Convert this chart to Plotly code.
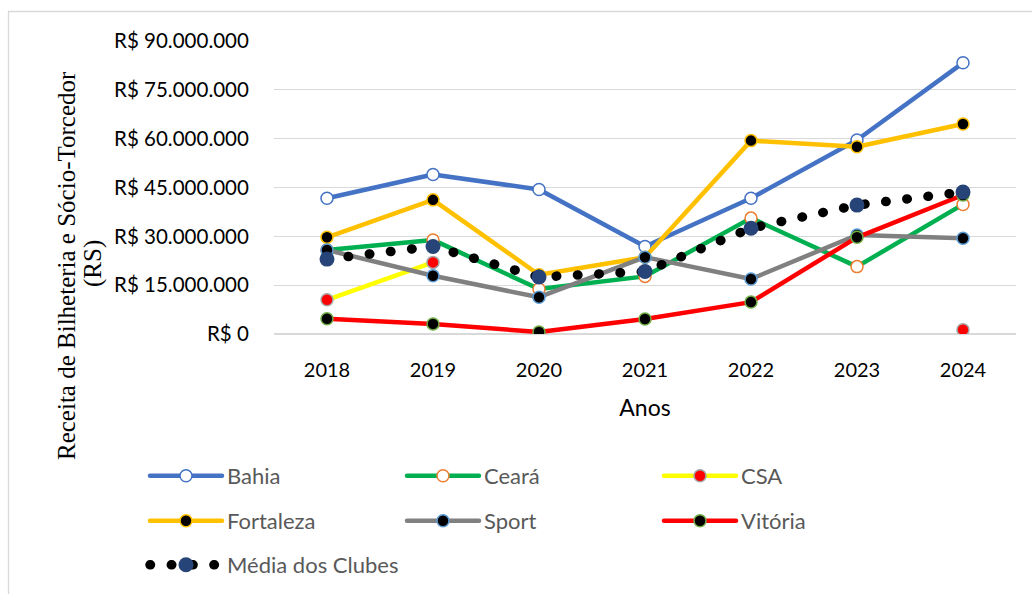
import plotly.graph_objects as go

# ---------------- data ----------------
anos = ["2018", "2019", "2020", "2021", "2022", "2023", "2024"]

bahia = [41.7e6, 49.0e6, 44.4e6, 26.9e6, 41.7e6, 59.6e6, 83.3e6]
ceara = [25.8e6, 28.9e6, 13.8e6, 17.7e6, 35.6e6, 20.7e6, 39.8e6]
csa = [10.5e6, 22.0e6, None, None, None, None, 1.3e6]
fortaleza = [29.7e6, 41.2e6, 18.2e6, 23.6e6, 59.4e6, 57.5e6, 64.5e6]
sport = [25.8e6, 17.9e6, 11.3e6, 23.6e6, 16.9e6, 30.4e6, 29.4e6]
vitoria = [4.7e6, 3.1e6, 0.6e6, 4.6e6, 9.8e6, 29.7e6, 42.7e6]
media = [23.0e6, 26.9e6, 17.5e6, 19.2e6, 32.5e6, 39.6e6, 43.6e6]

y_tickvals = [0, 15e6, 30e6, 45e6, 60e6, 75e6, 90e6]
y_ticktext = ["R$ 0", "R$ 15.000.000", "R$ 30.000.000", "R$ 45.000.000",
              "R$ 60.000.000", "R$ 75.000.000", "R$ 90.000.000"]

# ---------------- layout geometry ----------------
W, H = 1032, 594
L, R, T, B = 274, 16, 41, 260
PW, PH = W - L - R, H - T - B


def px_x(px):
    return (px - L) / PW


def px_y(py):
    return (H - B - py) / PH


FONT = "Lato"
fig = go.Figure()

# legend slots: (column left px, row centre px)
COLS = [145, 402, 659]
ROWS = [476, 521, 565]
legend_slots = {}


def add_series(name, values, line_color, marker_fill, marker_line, slot,
               width=4.5, size=12, dash="solid", mline_w=1.5):
    lid = "legend" if slot == 1 else f"legend{slot}"
    fig.add_trace(go.Scatter(
        x=anos, y=values, name=name, mode="lines+markers",
        line=dict(color=line_color, width=width, dash=dash),
        marker=dict(symbol="circle", size=size, color=marker_fill,
                    line=dict(color=marker_line, width=mline_w)),
        connectgaps=False, legend=lid,
    ))
    legend_slots[lid] = slot


add_series("Bahia", bahia, "#4472C4", "#FFFFFF", "#4472C4", 1)
add_series("Ceará", ceara, "#00B050", "#FFFFFF", "#ED7D31", 2)
add_series("CSA", csa, "#FFFF00", "#FF0000", "#A5A5A5", 3)
add_series("Fortaleza", fortaleza, "#FFC000", "#000000", "#FFC000", 4)
add_series("Sport", sport, "#808080", "#000000", "#5B9BD5", 5)
add_series("Vitória", vitoria, "#FF0000", "#000000", "#70AD47", 6)
add_series("Média dos Clubes", media, "#000000", "#264478", "#264478", 7,
           width=9.5, size=15, dash="0.5px,20.8px", mline_w=0)

legends = {}
for lid, slot in legend_slots.items():
    col = (slot - 1) % 3
    row = (slot - 1) // 3
    legends[lid] = dict(
        orientation="h", itemwidth=72,
        xanchor="left", yanchor="middle", bgcolor="rgba(0,0,0,0)",
        font=dict(family=FONT, size=22, color="#595959"),
        x=px_x(COLS[col]), y=px_y(ROWS[row]),
    )

fig.update_layout(
    width=W, height=H,
    margin=dict(l=L, r=R, t=T, b=B, pad=0, autoexpand=False),
    paper_bgcolor="white", plot_bgcolor="white",
    showlegend=True,
    **legends,
    xaxis=dict(
        type="category", range=[-0.5, 6.5], showgrid=False, zeroline=False,
        showline=False, ticks="outside", ticklen=18, tickcolor="rgba(0,0,0,0)",
        tickfont=dict(family=FONT, size=20, color="#000000"),
        automargin=False,
        title=dict(text="Anos", font=dict(family=FONT, size=23, color="#000000"),
                   standoff=19),
    ),
    yaxis=dict(
        range=[0, 90e6], tickvals=y_tickvals, ticktext=y_ticktext,
        showgrid=True, gridcolor="#D9D9D9", gridwidth=1.3,
        zeroline=True, zerolinecolor="#D9D9D9", zerolinewidth=1.3,
        showline=False, ticks="outside", ticklen=20, tickcolor="rgba(0,0,0,0)",
        tickfont=dict(family=FONT, size=20.5, color="#000000"),
        automargin=False,
    ),
    annotations=[
        dict(text="Receita de Bilheteria e Sócio-Torcedor", textangle=-90,
             xref="paper", yref="paper", x=px_x(66), y=px_y(266),
             xanchor="center", yanchor="middle", showarrow=False,
             font=dict(family="Liberation Serif", size=25, color="#000000")),
        dict(text="(RS)", textangle=-90,
             xref="paper", yref="paper", x=px_x(93), y=px_y(264),
             xanchor="center", yanchor="middle", showarrow=False,
             font=dict(family="Liberation Serif", size=25, color="#000000")),
    ],
    shapes=[
        dict(type="rect", xref="paper", yref="paper",
             x0=px_x(8.5), x1=px_x(1040), y0=px_y(11.5), y1=px_y(610),
             line=dict(color="#D9D9D9", width=1.3), fillcolor="rgba(0,0,0,0)",
             layer="below"),
    ],
)

post = ("var s=document.createElement('style');"
        "s.textContent='html,body{margin:0;padding:0;overflow:hidden}"
        "path.js-line{stroke-linecap:round;stroke-linejoin:round}';"
        "document.head.appendChild(s);")

fig.write_html("out.html", post_script=post,
               config={"displayModeBar": False, "staticPlot": True})
